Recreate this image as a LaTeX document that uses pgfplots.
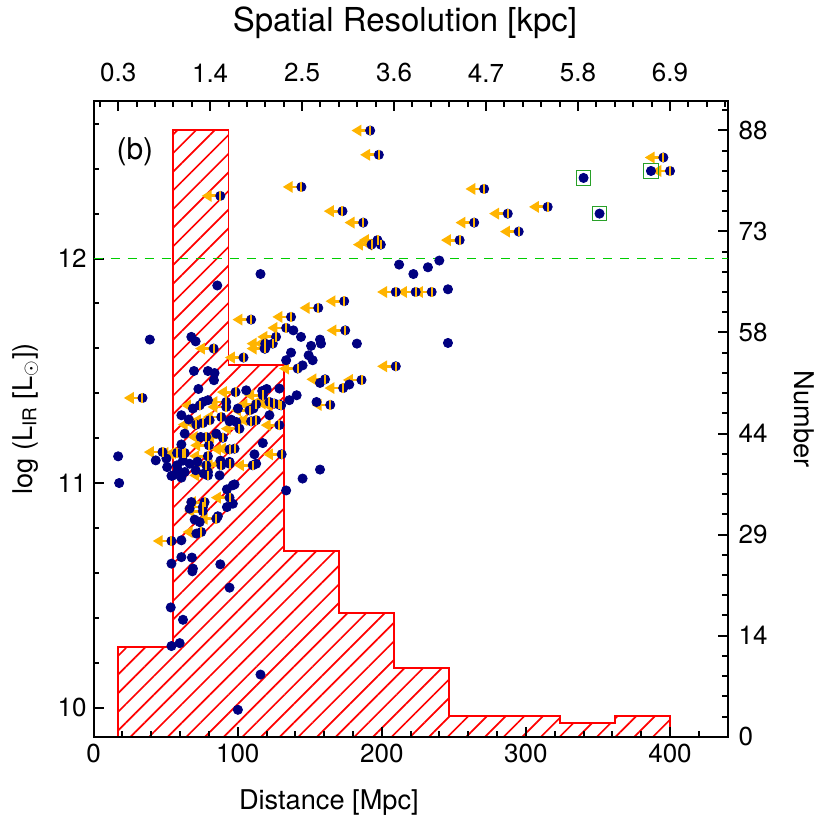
\documentclass[border=0pt]{standalone}
\usepackage{fontspec}
\setmainfont{TeX Gyre Heros}
\usepackage{pgfplots}
\usepackage{pgfplotstable}
\pgfplotsset{compat=1.18}
\usetikzlibrary{arrows.meta,patterns.meta}

\definecolor{dotblue}{RGB}{0,0,128}
\definecolor{limorange}{RGB}{255,180,0}
\definecolor{lirgreen}{RGB}{0,205,0}
\definecolor{boxgreen}{RGB}{40,160,40}

% detections: distance [Mpc], log L_IR
\pgfplotstableread{
x y
115.8 11.931
85.8 11.880
212.0 11.973
221.9 11.931
232.0 11.961
239.9 11.991
245.9 11.863
138.6 11.680
143.9 11.651
150.9 11.611
157.1 11.639
157.8 11.621
182.7 11.621
245.9 11.624
137.0 11.581
133.6 11.547
149.2 11.569
152.0 11.547
145.0 11.524
157.1 11.446
177.4 11.439
154.7 11.361
140.9 11.391
135.8 11.369
128.9 11.421
122.0 11.302
117.4 11.178
157.1 11.060
145.0 11.020
39.0 11.639
67.8 11.651
70.8 11.631
69.6 11.499
79.3 11.499
83.9 11.490
83.5 11.458
72.7 11.419
105.9 11.413
117.0 11.410
120.1 11.419
68.9 11.332
79.3 11.369
75.8 11.361
100.1 11.332
110.9 11.332
60.9 11.302
66.0 11.283
94.3 11.275
99.0 11.272
63.2 11.220
74.3 11.205
85.1 11.220
60.9 11.172
111.6 11.128
17.0 11.119
17.7 11.000
43.1 11.101
50.5 11.109
51.0 11.071
57.9 11.079
58.5 11.057
55.1 11.034
63.2 11.049
66.6 11.086
60.9 11.024
70.8 11.057
76.5 11.042
79.3 11.049
87.4 11.034
94.3 11.094
112.8 11.086
97.8 10.994
92.5 10.972
54.0 11.032
96.6 10.990
133.6 10.967
96.6 10.908
92.5 10.893
67.8 10.915
66.6 10.886
86.2 10.852
73.6 10.826
70.1 10.837
71.3 10.775
60.9 10.745
60.9 10.670
54.0 10.641
68.2 10.668
87.9 10.638
68.9 10.619
94.3 10.534
53.5 10.446
62.0 10.391
54.0 10.274
59.7 10.287
115.8 10.147
100.1 9.990
118.6 11.599
95.5 11.282
62.0 11.100
72.0 11.095
88.0 11.100
68.5 10.607
}\detections

% upper limits on distance
\pgfplotstableread{
x y
87.9 12.279
144.2 12.319
191.9 12.570
197.9 12.462
271.0 12.310
172.7 12.211
187.1 12.160
264.1 12.160
197.0 12.082
199.3 12.062
192.9 12.062
254.0 12.082
395.4 12.450
400.0 12.390
315.1 12.230
287.4 12.200
295.0 12.120
209.7 11.851
223.5 11.851
234.6 11.851
173.9 11.810
155.9 11.780
137.0 11.740
133.6 11.691
174.6 11.680
126.6 11.651
124.3 11.621
119.1 11.621
119.1 11.599
209.7 11.520
141.6 11.510
160.6 11.462
185.9 11.459
173.2 11.423
164.2 11.348
128.9 11.349
128.9 11.258
130.5 11.128
83.3 11.599
109.3 11.728
104.0 11.559
33.9 11.379
98.5 11.405
73.6 11.346
117.4 11.391
125.5 11.354
92.0 11.339
88.6 11.294
75.8 11.267
71.3 11.260
109.3 11.275
101.2 11.242
89.7 11.202
78.2 11.205
47.8 11.138
63.2 11.134
57.9 11.134
80.0 11.168
79.3 11.120
94.3 11.150
78.2 11.079
88.6 11.079
110.4 11.079
97.8 11.153
79.3 11.034
94.3 11.086
94.3 10.935
77.0 10.915
75.8 10.893
75.8 10.875
85.1 10.841
74.7 10.782
54.0 10.742
112.8 11.351
122.0 11.361
108.2 11.324
80.5 11.280
112.8 11.280
92.0 11.361
62.0 11.131
130.1 11.346
}\limits

\pgfplotstableread{
x y
340.0 12.359
351.1 12.200
386.8 12.390
}\boxed

% histogram: left bin edge, count
\pgfplotstableread{
x n
17.0 13
55.3 88
93.6 54
131.9 27
170.2 18
208.5 10
246.8 3
285.1 3
323.4 2
361.7 3
400.0 3
}\hist

\begin{document}
\begin{tikzpicture}
\pgfplotsset{
  every axis/.append style={
    scale only axis,
    width=317.15pt, height=317.85pt,
    xmin=0, xmax=440,
    axis line style={line width=1pt},
    every tick/.style={line width=1pt, black},
    tick align=inside,
    major tick length=5pt,
    minor tick length=2.7pt,
    tick label style={font=\fontsize{13}{15}\selectfont},
    label style={font=\fontsize{13.6}{16}\selectfont},
    /pgf/number format/assume math mode=true,
  },
}
% histogram on top / right axes
\begin{axis}[
    name=histax,
    ymin=0, ymax=92.2,
    xtick pos=right, xticklabel pos=right,
    ytick pos=right, yticklabel pos=right,
    xtick={17,80.83,144.67,208.5,272.33,336.17,400},
    xticklabels={0.3,1.4,2.5,3.6,4.7,5.8,6.9},
    minor xtick={4.23,29.77,42.53,55.3,68.07,93.6,106.37,119.13,131.9,157.43,170.2,182.97,195.73,221.27,234.03,246.8,259.57,285.1,297.87,310.63,323.4,348.93,361.7,374.47,387.23,412.77,425.53,438.3},
    ytick={0,14.667,29.333,44,58.667,73.333,88},
    yticklabels={0,14,29,44,58,73,88},
    minor ytick={2.933,5.867,8.8,11.733,17.6,20.533,23.467,26.4,32.267,35.2,38.133,41.067,46.933,49.867,52.8,55.733,61.6,64.533,67.467,70.4,76.267,79.2,82.133,85.067,90.933},
    xticklabel style={yshift=6pt},
    yticklabel style={xshift=2pt},
    xlabel={Spatial Resolution [kpc]},
    ylabel={Number},
    xlabel style={at={(axis description cs:0.491,1.124)}, anchor=center, font=\fontsize{16.5}{19}\selectfont},
    ylabel style={at={(axis description cs:1.121,0.5)}, anchor=center, rotate=180},
]
\addplot[const plot, draw=red, line width=0.9pt,
  pattern={Lines[angle=45,distance=6.6pt,line width=0.85pt]}, pattern color=red]
  table[x=x, y=n] {\hist} \closedcycle;
\end{axis}

% scatter on bottom / left axes
\begin{axis}[
    ymin=9.87, ymax=12.70,
    xtick pos=left, ytick pos=left,
    xtick={0,100,200,300,400},
    minor xtick={20,40,60,80,120,140,160,180,220,240,260,280,320,340,360,380,420,440},
    ytick={10,11,12},
    minor ytick={10.2,10.4,10.6,10.8,11.2,11.4,11.6,11.8,12.2,12.4,12.6},
    xlabel={Distance [Mpc]},
    ylabel={log (L\textsubscript{IR} [L\textsubscript{$\odot$}])},
    xlabel style={at={(axis description cs:0.371,-0.103)}, anchor=center},
    ylabel style={at={(axis description cs:-0.108,0.5)}, anchor=center},
]
\addplot[lirgreen, line width=0.7pt, dash pattern=on 4.5pt off 4pt] coordinates {(0,12) (440,12)};
\addplot[only marks, mark=*, mark size=2.3pt, dotblue] table {\detections};
\addplot[only marks, mark=*, mark size=2.3pt, dotblue] table {\boxed};
\addplot[only marks, mark=*, mark size=2.3pt, dotblue] table {\limits};
\addplot[limorange, line width=1.4pt, quiver={u=-13, v=0},
  -{Triangle[length=5pt, width=5.6pt]}] table {\limits};
\addplot[only marks, mark=|, mark size=2.4pt, limorange, mark options={line width=1pt}] table {\limits};
\addplot[only marks, mark=square, mark size=3.6pt, boxgreen, mark options={line width=0.6pt}] table {\boxed};
\node[anchor=center, font=\fontsize{15}{17}\selectfont] at (axis description cs:0.065,0.92) {(b)};
\end{axis}
\path ([shift={(-46.85pt,-46.65pt)}]histax.south west) rectangle ([shift={(51pt,50.5pt)}]histax.north east);
\end{tikzpicture}
\end{document}
